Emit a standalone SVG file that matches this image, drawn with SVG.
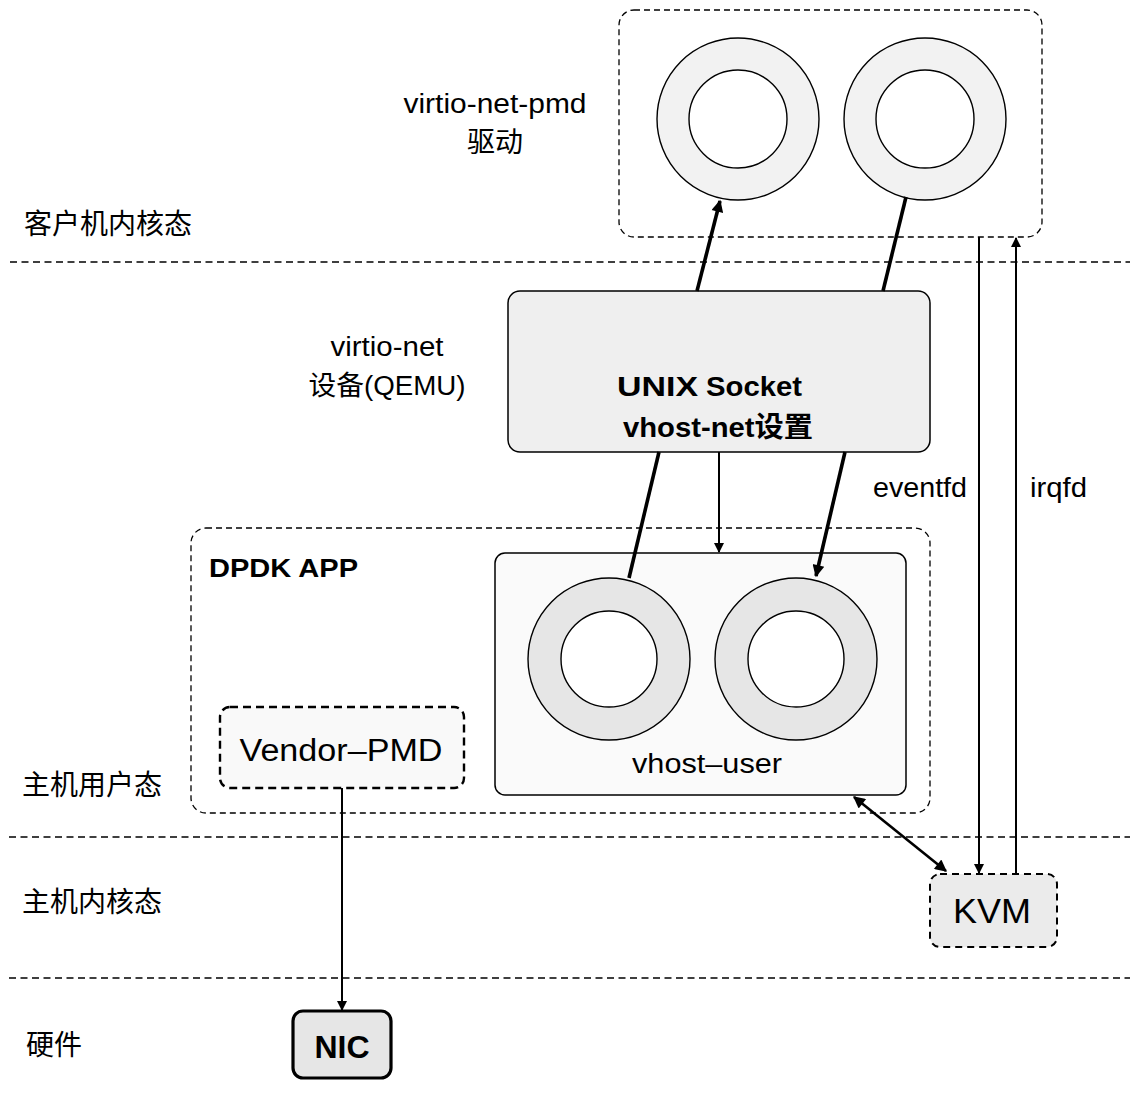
<svg xmlns="http://www.w3.org/2000/svg" width="1142" height="1093" viewBox="0 0 1142 1093">
<style>
text{font-family:"Liberation Sans","Noto Sans CJK SC",sans-serif;fill:#000}
.lbl{font-size:27px}
.cjk{font-size:28px}
.b{font-weight:bold}
.sep{stroke:#000;stroke-width:1.6;stroke-dasharray:7 4.5;fill:none}
.grp{stroke:#000;stroke-width:1.3;stroke-dasharray:6 4;fill:none}
.ring{stroke:#000;stroke-width:1.4}
.inner{fill:#fff;stroke:#000;stroke-width:1.4}
.bold{stroke:#000;stroke-width:3.6;fill:none}
.thin{stroke:#000;stroke-width:2;fill:none}
</style>
<defs>
<marker id="ab" viewBox="0 0 10 10" refX="9" refY="5" markerWidth="15" markerHeight="12" markerUnits="userSpaceOnUse" orient="auto-start-reverse"><path d="M0,0 L10,5 L0,10 z" fill="#000"/></marker>
<marker id="at" viewBox="0 0 10 10" refX="9" refY="5" markerWidth="13" markerHeight="10" markerUnits="userSpaceOnUse" orient="auto-start-reverse"><path d="M0,0 L10,5 L0,10 z" fill="#000"/></marker>
</defs>
<rect width="1142" height="1093" fill="#fff"/>

<g id="layers">
<line class="sep" x1="10" y1="262" x2="1130" y2="262"/>
<line class="sep" x1="9" y1="837" x2="1130" y2="837"/>
<line class="sep" x1="9" y1="978" x2="1130" y2="978"/>
<text class="cjk" x="24" y="234">客户机内核态</text>
<text class="cjk" x="22" y="795">主机用户态</text>
<text class="cjk" x="22" y="912">主机内核态</text>
<text class="cjk" x="26" y="1055">硬件</text>
</g>

<g id="guest">
<rect class="grp" x="619" y="10" width="423" height="227" rx="15"/>
<circle class="ring" cx="738" cy="119" r="81" fill="#f2f2f2"/>
<circle class="inner" cx="738" cy="119" r="49"/>
<circle class="ring" cx="925" cy="119" r="81" fill="#f2f2f2"/>
<circle class="inner" cx="925" cy="119" r="49"/>
<text class="lbl" x="495" y="113" text-anchor="middle" textLength="183" lengthAdjust="spacingAndGlyphs">virtio-net-pmd</text>
<text class="cjk" x="495" y="152" text-anchor="middle">驱动</text>
</g>

<g id="qemu">
<rect x="508" y="291" width="422" height="161" rx="12" fill="#efefef" stroke="#000" stroke-width="1.5"/>
<text x="617" y="396" font-size="28" font-weight="900" textLength="81" lengthAdjust="spacingAndGlyphs">UNIX</text>
<text x="706" y="396" font-size="28" class="b" textLength="96" lengthAdjust="spacingAndGlyphs">Socket</text>
<text x="623" y="437" font-size="28" class="b" textLength="190" lengthAdjust="spacingAndGlyphs">vhost-net设置</text>
<text class="lbl" x="387" y="356" text-anchor="middle" textLength="113" lengthAdjust="spacingAndGlyphs">virtio-net</text>
<text class="lbl" x="387" y="395" text-anchor="middle" textLength="157" lengthAdjust="spacingAndGlyphs">设备(QEMU)</text>
</g>

<g id="dpdk">
<rect class="grp" x="191" y="528" width="739" height="285" rx="15"/>
<text x="209" y="577" font-size="26" class="b" textLength="149" lengthAdjust="spacingAndGlyphs">DPDK APP</text>
</g>

<g id="vhost-user">
<rect x="495" y="553" width="411" height="242" rx="10" fill="#fafafa" stroke="#000" stroke-width="1.5"/>
<circle class="ring" cx="609" cy="659" r="81" fill="#e6e6e6"/>
<circle class="inner" cx="609" cy="659" r="48"/>
<circle class="ring" cx="796" cy="659" r="81" fill="#e6e6e6"/>
<circle class="inner" cx="796" cy="659" r="48"/>
<text x="707" y="773" font-size="27" text-anchor="middle" textLength="150" lengthAdjust="spacingAndGlyphs">vhost–user</text>
</g>

<g id="vendor-pmd">
<rect x="220" y="707" width="244" height="81" rx="10" fill="#f9f9f9" stroke="#000" stroke-width="2.4" stroke-dasharray="8 5"/>
<text x="341" y="761" font-size="31" text-anchor="middle" textLength="203" lengthAdjust="spacingAndGlyphs">Vendor–PMD</text>
</g>

<g id="kvm">
<rect x="930" y="874" width="127" height="73" rx="10" fill="#ebebeb" stroke="#000" stroke-width="2" stroke-dasharray="7 5"/>
<text x="992" y="923" font-size="35" text-anchor="middle" textLength="78" lengthAdjust="spacingAndGlyphs">KVM</text>
</g>

<g id="nic">
<rect x="293" y="1011" width="98" height="67" rx="10" fill="#e6e6e6" stroke="#000" stroke-width="3.2"/>
<text x="342" y="1058" font-size="32" class="b" text-anchor="middle">NIC</text>
</g>

<g id="connectors">
<line class="bold" x1="697" y1="291" x2="720" y2="201" marker-end="url(#ab)"/>
<line class="bold" x1="883" y1="291" x2="906" y2="197"/>
<line class="bold" x1="659" y1="452" x2="629" y2="578"/>
<line class="thin" x1="719" y1="452" x2="719" y2="552" marker-end="url(#at)"/>
<line class="bold" x1="845" y1="452" x2="816" y2="576" marker-end="url(#ab)"/>
<line class="thin" x1="979" y1="237" x2="979" y2="873" marker-end="url(#at)"/>
<line class="thin" x1="1016" y1="874" x2="1016" y2="238" marker-end="url(#at)"/>
<line class="thin" x1="342" y1="788" x2="342" y2="1010" marker-end="url(#at)"/>
<line x1="854" y1="797" x2="946" y2="871" stroke="#000" stroke-width="2.6" marker-start="url(#ab)" marker-end="url(#ab)"/>
<text class="lbl" x="873" y="497" textLength="94" lengthAdjust="spacingAndGlyphs">eventfd</text>
<text class="lbl" x="1030" y="497" textLength="57" lengthAdjust="spacingAndGlyphs">irqfd</text>
</g>
</svg>
